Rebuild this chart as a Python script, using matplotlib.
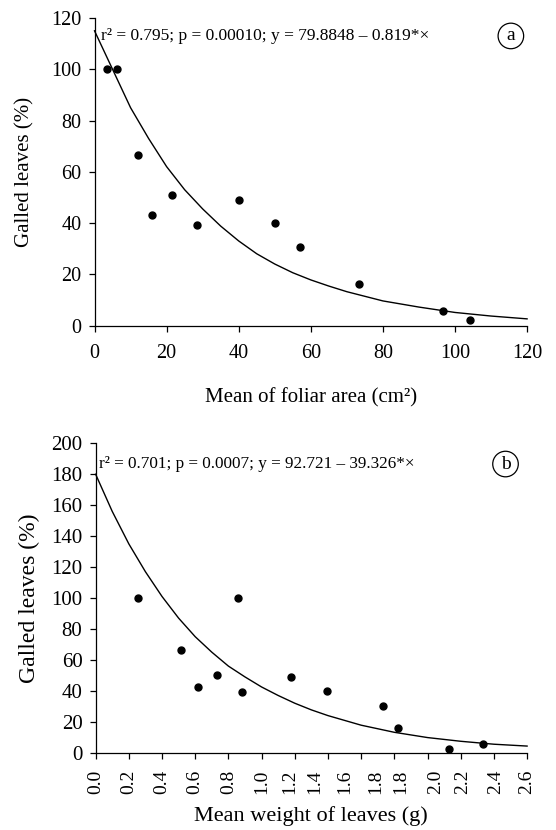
import matplotlib
matplotlib.use("Agg")
import matplotlib.pyplot as plt

plt.rcParams['font.family'] = ['Liberation Serif', 'DejaVu Serif']

# panel a: galled leaves vs mean foliar area
area_x = [3.4, 6.1, 12.1, 16.0, 21.5, 28.3, 40.0, 50.0, 57.0, 73.4, 96.7, 104.2]
area_y = [100, 100, 66.5, 43.1, 50.8, 39.4, 49.0, 40.1, 30.5, 16.2, 5.5, 2.1]
# fitted curve
area_fit_x = [0, 5, 10, 15, 20, 25, 30, 35, 40, 45, 50, 55, 60, 65, 70, 80, 90, 100, 110, 120]
area_fit_y = [115, 100, 85, 73, 62, 53, 45.5, 38.8, 33, 28, 24, 20.6, 17.8, 15.4, 13.2,
              9.6, 7.2, 5.1, 3.7, 2.6]
area_text = "r² = 0.795; p = 0.00010; y = 79.8848 – 0.819*×"

# panel b: galled leaves vs mean weight of leaves
weight_x = [0.257, 0.513, 0.616, 0.733, 0.855, 0.881, 1.176, 1.394, 1.732, 1.824, 2.127, 2.335]
weight_y = [100, 66.2, 42.6, 50.5, 100, 39.4, 49.2, 40.0, 30.5, 15.9, 2.2, 5.8]
weight_fit_x = [0, 0.1, 0.2, 0.3, 0.4, 0.5, 0.6, 0.7, 0.8, 0.9, 1.0, 1.1, 1.2, 1.3, 1.4,
                1.6, 1.8, 2.0, 2.2, 2.4, 2.6]
weight_fit_y = [180, 156, 135, 117, 101, 87, 75, 65, 56, 49, 42.5, 37, 32, 27.7, 24,
                17.8, 13.2, 9.8, 7.4, 5.5, 4.3]
weight_text = "r² = 0.701; p = 0.0007; y = 92.721 – 39.326*×"

# tick marks and the (oddly spaced) tick labels of panel b
weight_ticks = [0, 0.2, 0.4, 0.6, 0.8, 1.0, 1.2, 1.4, 1.6, 1.8, 2.0, 2.2, 2.4, 2.6]
weight_label_pos = [0, 0.2, 0.4, 0.6, 0.8, 1.0, 1.17, 1.32, 1.5, 1.69, 1.84, 2.05, 2.21, 2.41, 2.6]
weight_labels = ["0.0", "0.2", "0.4", "0.6", "0.8", "1.0", "1.2", "1.4", "1.6",
                 "1.8", "1.8", "2.0", "2.2", "2.4", "2.6"]

fig = plt.figure(figsize=(5.56, 8.30), dpi=100)
ax1 = fig.add_axes([0.170, 0.6078, 0.778, 0.3705])
ax2 = fig.add_axes([0.172, 0.0931, 0.776, 0.3728])


def style(ax, size):
    for s in ['top', 'right']:
        ax.spines[s].set_visible(False)
    for s in ['left', 'bottom']:
        ax.spines[s].set_linewidth(0.9)
    ax.tick_params(direction='out', length=4.5, width=0.9, labelsize=size, pad=5)


# --- a ---
ax1.plot(area_fit_x, area_fit_y, color='black', lw=1.0, clip_on=False)
ax1.plot(area_x, area_y, 'o', color='black', ms=5, clip_on=False)
ax1.set_xlim(0, 120)
ax1.set_ylim(0, 120)
ax1.set_xticks(range(0, 121, 20))
ax1.set_yticks(range(0, 121, 20))
style(ax1, 14.5)
ax1.tick_params(axis='x', pad=9)
ax1.set_xlabel("Mean of foliar area (cm²)", fontsize=15, labelpad=18)
ax1.set_ylabel("Galled leaves (%)", fontsize=15, labelpad=12)
ax1.text(1.8, 113, area_text, fontsize=12.5, va='center', ha='left')
ax1.text(115.5, 113, "a", fontsize=14, va='center', ha='center',
         bbox=dict(boxstyle='circle,pad=0.22', fc='white', ec='black', lw=0.9))

# --- b ---
ax2.plot(weight_fit_x, weight_fit_y, color='black', lw=1.0, clip_on=False)
ax2.plot(weight_x, weight_y, 'o', color='black', ms=5, clip_on=False)
ax2.set_xlim(0, 2.6)
ax2.set_ylim(0, 200)
ax2.set_yticks(range(0, 201, 20))
style(ax2, 15)
ax2.xaxis.remove_overlapping_locs = False
ax2.set_xticks(weight_label_pos, weight_labels, rotation=90)
ax2.set_xticks(weight_ticks, minor=True)
ax2.tick_params(axis='x', which='major', length=0, pad=12, labelsize=14)
ax2.tick_params(axis='x', which='minor', direction='out', length=4.5, width=0.9)
ax2.set_xlabel("Mean weight of leaves (g)", fontsize=16, labelpad=9)
ax2.set_ylabel("Galled leaves (%)", fontsize=17, labelpad=8)
ax2.text(0.02, 186.6, weight_text, fontsize=12.3, va='center', ha='left')
ax2.text(2.47, 186.6, "b", fontsize=14, va='center', ha='center',
         bbox=dict(boxstyle='circle,pad=0.22', fc='white', ec='black', lw=0.9))

fig.savefig("out.png", dpi=100)
